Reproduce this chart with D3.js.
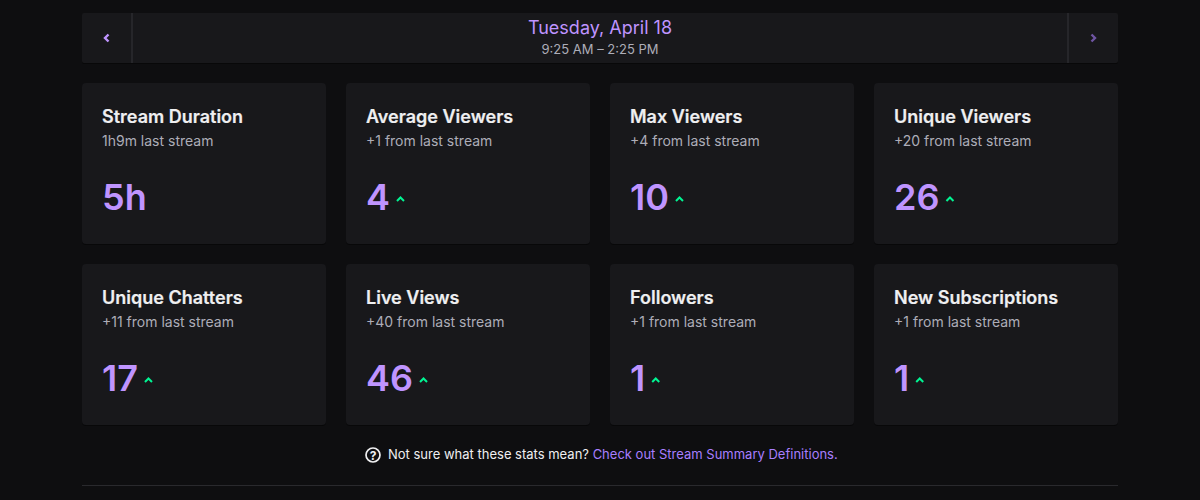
<!DOCTYPE html>
<html>
<head>
<meta charset="utf-8">
<script src="https://cdn.jsdelivr.net/npm/d3@7"></script>
<style>
  html, body { margin: 0; padding: 0; background: #0e0e10; overflow: hidden; }
  text { font-family: Inter, "Noto Sans", sans-serif; }
</style>
</head>
<body>
<svg width="1200" height="500"></svg>
<script>
const titles = ["Stream Duration", "Average Viewers", "Max Viewers", "Unique Viewers",
  "Unique Chatters", "Live Views", "Followers", "New Subscriptions"]
const changes = ["1h9m last stream", "+1 from last stream", "+4 from last stream", "+20 from last stream",
  "+11 from last stream", "+40 from last stream", "+1 from last stream", "+1 from last stream"]
const values = ["5h", "4", "10", "26", "17", "46", "1", "1"]
const trendUp = [false, true, true, true, true, true, true, true]

const dateLabel = "Tuesday, April 18"
const timeLabel = "9:25 AM – 2:25 PM"
const helpText = "Not sure what these stats mean? "
const helpLink = "Check out Stream Summary Definitions."

const cardBg = "#18181b", shadow = "#080809", purple = "#bf94ff", green = "#00f593"

const svg = d3.select("svg")

const col = d3.scaleBand().domain(d3.range(4)).range([82, 1118]).paddingInner(20 / 264)
const row = d3.scaleBand().domain(d3.range(2)).range([83, 425]).paddingInner(20 / 181)

// top date bar
const bar = svg.append("g")
bar.append("rect").attr("x", 82).attr("y", 14).attr("width", 1036).attr("height", 50)
  .attr("rx", 2).attr("fill", shadow)
bar.append("rect").attr("x", 82).attr("y", 13).attr("width", 1036).attr("height", 50)
  .attr("rx", 2).attr("fill", cardBg)
bar.selectAll("rect.sep").data([131, 1067]).enter().append("rect")
  .attr("class", "sep").attr("x", d => d).attr("y", 13).attr("width", 2).attr("height", 50)
  .attr("fill", "#26262a")
bar.append("path").attr("d", "M108.5 34.5 L105 38 L108.5 41.5").attr("fill", "none")
  .attr("stroke", purple).attr("stroke-width", 2.4)
bar.append("path").attr("d", "M1091.5 34.5 L1095 38 L1091.5 41.5").attr("fill", "none")
  .attr("stroke", "#6f55a3").attr("stroke-width", 2.4)
bar.append("text").attr("x", 600).attr("y", 34).attr("text-anchor", "middle")
  .attr("font-size", 18).attr("fill", purple).text(dateLabel)
bar.append("text").attr("x", 600).attr("y", 54).attr("text-anchor", "middle")
  .attr("font-size", 13).attr("fill", "#adadb8").text(timeLabel)

// stat cards
const cards = svg.selectAll("g.card").data(titles).enter().append("g")
  .attr("class", "card")
  .attr("transform", (d, i) => `translate(${col(i % 4)},${row(Math.floor(i / 4))})`)

cards.append("rect").attr("y", 1).attr("width", col.bandwidth()).attr("height", row.bandwidth())
  .attr("rx", 4).attr("fill", shadow)
cards.append("rect").attr("width", col.bandwidth()).attr("height", row.bandwidth())
  .attr("rx", 4).attr("fill", cardBg)
cards.append("text").attr("class", "title").attr("x", 20).attr("y", 40).attr("font-size", 18).attr("font-weight", 600)
  .attr("fill", "#efeff1").attr("stroke", "#efeff1").attr("stroke-width", 0.2).text(d => d)
cards.append("text").attr("x", 20).attr("y", 63).attr("font-size", 14)
  .attr("fill", "#adadb8").text((d, i) => changes[i])
cards.append("text").attr("class", "num").attr("x", 20).attr("y", 127).attr("font-size", 36).attr("font-weight", 600)
  .attr("fill", purple).text((d, i) => values[i])

// the small arrow sits right after the number
cards.each(function (d, i) {
  if (!trendUp[i]) return
  const w = d3.select(this).select("text.num").node().getComputedTextLength()
  d3.select(this).append("path")
    .attr("d", `M${20 + w + 7} 118 L${20 + w + 10.5} 114.5 L${20 + w + 14} 118`)
    .attr("fill", "none").attr("stroke", green).attr("stroke-width", 2)
})

// help line
const help = svg.append("g")
help.append("circle").attr("cx", 373).attr("cy", 455).attr("r", 7).attr("fill", "none")
  .attr("stroke", "#efeff1").attr("stroke-width", 1.7)
help.append("text").attr("x", 373).attr("y", 459.5).attr("text-anchor", "middle")
  .attr("font-size", 12).attr("font-weight", 700).attr("fill", "#efeff1").text("?")
const line = help.append("text").attr("x", 388).attr("y", 459).attr("font-size", 13).attr("fill", "#efeff1")
line.append("tspan").text(helpText)
line.append("tspan").attr("fill", "#a87fff").text(helpLink)

svg.append("rect").attr("x", 82).attr("y", 485).attr("width", 1036).attr("height", 1).attr("fill", "#29292d")
</script>
</body>
</html>
